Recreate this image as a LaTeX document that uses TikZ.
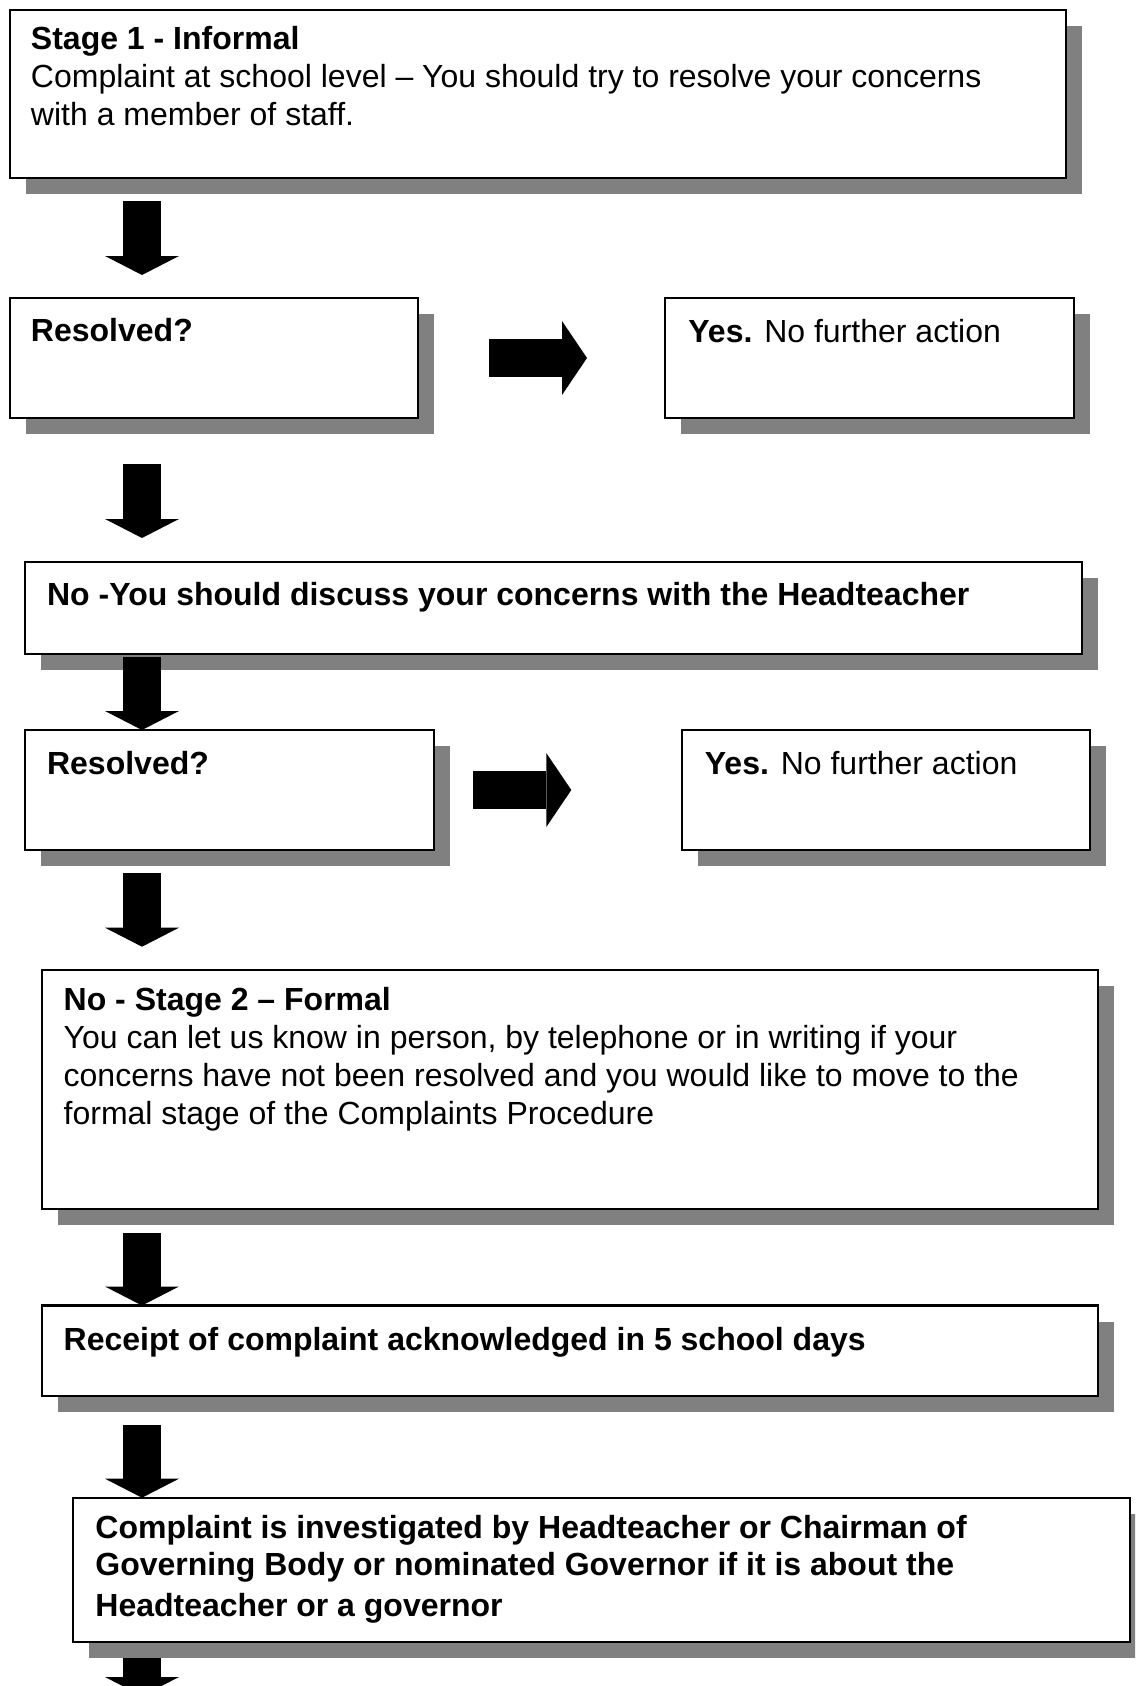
\documentclass[tikz,border=0pt]{standalone}
\usepackage{fontspec}
\setmainfont{Liberation Sans}
\usetikzlibrary{arrows.meta,shadows}
\tikzset{
	flowbox/.style={draw,line width=1.1pt,fill=white,anchor=north west,inner sep=0pt,outer sep=0pt,
		drop shadow={shadow xshift=8pt,shadow yshift=-8pt,fill=black!50,opacity=1}},
	widebox/.style={flowbox,minimum width=528.2pt},
	smallbox/.style={flowbox,minimum width=204.3pt,minimum height=60pt},
	txt/.style={anchor=base west,inner sep=0pt,font=\fontsize{16}{19.15}\selectfont},
	downarr/.style={line width=19pt,-{Triangle[length=9.5pt 0 0,width=37pt 0 0,line width=0pt 0 0]}},
	rightarr/.style={line width=18.7pt,-{Triangle[length=12.5pt 0 0,width=37pt 0 0,line width=0pt 0 0]}}
}
\begin{document}
\begin{tikzpicture}[x=0.5pt,y=-0.5pt]
		\useasboundingbox (0,0) rectangle (1135,1686);
		\clip (0,0) rectangle (1135,1686);
		\path (9.7,10) node(stage1)[widebox,minimum height=83.85pt]{}
		(9.7,298) node(res1)[smallbox]{}
		(665.3,298) node(yes1)[smallbox]{}
		(25.3,561.7) node(head)[widebox,minimum height=46.3pt]{}
		(25.3,730) node(res2)[smallbox]{}
		(681.7,730) node(yes2)[smallbox]{}
		(41.7,970) node(stage2)[widebox,minimum height=119.65pt]{}
		(41.7,1305.5) node(receipt)[widebox,minimum height=45.25pt]{}
		(73.3,1497.7) node(invest)[widebox,minimum height=72pt]{};
		\coordinate (ax) at (142,0);
		\coordinate (tail) at (142,1696);
		\node[txt] (stage1-t) at (30.6,49.3) {\begin{tabular}[t]{@{}l@{}}\textbf{Stage 1 - Informal}\\
			Complaint at school level – You should try to resolve your concerns\\
			with a member of staff.\end{tabular}};
		\node[txt] (res1-t) at (30.6,341.7) {\textbf{Resolved?}};
		\node[txt] (yes1-t) at (688,342.3) {\textbf{Yes.} No further action};
		\node[txt] (head-t) at (46.7,605.7) {\textbf{No -You should discuss your concerns with the Headteacher}};
		\node[txt] (res2-t) at (46.7,774.3) {\textbf{Resolved?}};
		\node[txt] (yes2-t) at (704.5,774.3) {\textbf{Yes.} No further action};
		\node[txt] (stage2-t) at (63.3,1010) {\begin{tabular}[t]{@{}l@{}}\textbf{No - Stage 2 – Formal}\\
			You can let us know in person, by telephone or in writing if your\\
			concerns have not been resolved and you would like to move to the\\
			formal stage of the Complaints Procedure\end{tabular}};
		\node[txt] (receipt-t) at (63.3,1350) {\textbf{Receipt of complaint acknowledged in 5 school days}};
		\node[txt,font=\fontsize{16}{18.35}\selectfont\bfseries] (invest-t) at (95,1538.3) {\begin{tabular}[t]{@{}l@{}}Complaint is investigated by Headteacher or Chairman of\\
			Governing Body or nominated Governor if it is about the\\[2.5pt]
			Headteacher or a governor\end{tabular}};
		\draw[downarr,shorten <=11.65pt,shorten >=11.5pt] (stage1.south -| ax) -- (res1.north -| ax);
		\draw[downarr,shorten <=23pt,shorten >=11.85pt] (res1.south -| ax) -- (head.north -| ax);
		\draw[downarr,shorten <=1.5pt] (head.south -| ax) -- (res2.north -| ax);
		\draw[downarr,shorten <=11.65pt,shorten >=11.65pt] (res2.south -| ax) -- (stage2.north -| ax);
		\draw[downarr,shorten <=11.85pt] (stage2.south -| ax) -- (receipt.north -| ax);
		\draw[downarr,shorten <=14.5pt] (receipt.south -| ax) -- (invest.north -| ax);
		\draw[downarr,shorten <=8pt] (invest.south -| ax) -- (tail);
		\draw[rightarr,shorten <=35.5pt,shorten >=39.15pt] (res1) -- (yes1);
		\draw[rightarr,shorten <=19.5pt,shorten >=55.2pt] (res2) -- (yes2);
	\end{tikzpicture}
\end{document}
